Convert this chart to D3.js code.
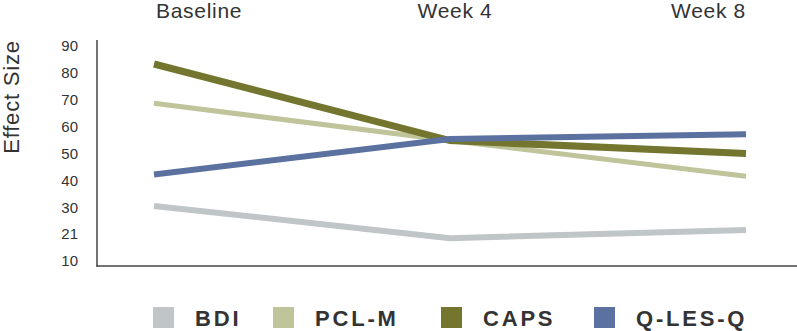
<!DOCTYPE html>
<html>
<head>
<meta charset="utf-8">
<script src="https://cdn.jsdelivr.net/npm/d3@7"></script>
<style>
  html, body { margin: 0; padding: 0; background: #fff; }
  svg { display: block; font-family: "Liberation Sans", Arial, Helvetica, sans-serif; }
</style>
</head>
<body>
<svg id="chart" width="797" height="331"></svg>
<script>
const categories = ["Baseline", "Week 4", "Week 8"];
const seriesNames = ["BDI", "PCL-M", "CAPS", "Q-LES-Q"];
const bdi = [30.5, 18.5, 21.5];
const pclm = [68.7, 54.8, 41.5];
const caps = [83.3, 54.8, 50.0];
const qlesq = [42.2, 55.4, 57.2];
const tickValues = [10, 20, 30, 40, 50, 60, 70, 80, 90];
const tickLabels = ["10", "21", "30", "40", "50", "60", "70", "80", "90"];
const colors = ["#c0c5c8", "#c0c49a", "#74752f", "#5b72a0"];
const widths = [6, 5, 7, 6];

const seriesValues = [bdi, pclm, caps, qlesq];
const svg = d3.select("#chart");

const x = d3.scalePoint().domain(categories).range([154, 746]);
const y = d3.scaleLinear().domain([10, 90]).range([261, 46]);

// axis frame lines
svg.append("line").attr("x1", 97).attr("x2", 97).attr("y1", 40).attr("y2", 266.5)
  .attr("stroke", "#444").attr("stroke-width", 1.5);
svg.append("line").attr("x1", 96.25).attr("x2", 797).attr("y1", 266).attr("y2", 266)
  .attr("stroke", "#444").attr("stroke-width", 1.5);

// y axis labels
const yAxis = d3.axisLeft(y).tickValues(tickValues)
  .tickFormat((d, i) => tickLabels[i]).tickSize(0).tickPadding(0);
const yg = svg.append("g").attr("transform", "translate(78,0)").call(yAxis);
yg.select(".domain").remove();
yg.selectAll("text").attr("font-size", 15).attr("fill", "#333")
  .attr("font-family", "Liberation Sans, Arial, sans-serif");

// y title
svg.append("text").attr("transform", "translate(19,97) rotate(-90)")
  .attr("text-anchor", "middle").attr("font-size", 22).attr("fill", "#333")
  .attr("letter-spacing", 0.8)
  .text("Effect Size");

// top x labels
const anchors = ["start", "middle", "end"];
const offsets = [2, 5, 0];
svg.selectAll(".xlab").data(categories).join("text")
  .attr("class", "xlab")
  .attr("x", (d, i) => x(d) + offsets[i]).attr("y", 18)
  .attr("text-anchor", (d, i) => anchors[i])
  .attr("font-size", 21).attr("fill", "#333")
  .attr("letter-spacing", 0.7)
  .text(d => d);

// lines
const line = d3.line().x((d, i) => x(categories[i])).y(d => y(d));
seriesValues.forEach((vals, k) => {
  svg.append("path").datum(vals)
    .attr("d", line).attr("fill", "none")
    .attr("stroke", colors[k]).attr("stroke-width", widths[k])
    .attr("stroke-linejoin", "miter").attr("stroke-linecap", "butt");
});

// legend
const legX = [153, 273, 441, 594];
const lg = svg.append("g");
seriesNames.forEach((name, k) => {
  lg.append("rect").attr("x", legX[k]).attr("y", 307).attr("width", 21).attr("height", 21)
    .attr("fill", colors[k]);
  lg.append("text").attr("x", legX[k] + 42).attr("y", 326)
    .attr("font-size", 22).attr("font-weight", "bold").attr("fill", "#333")
    .attr("letter-spacing", 2.8)
    .text(name);
});
</script>
</body>
</html>
